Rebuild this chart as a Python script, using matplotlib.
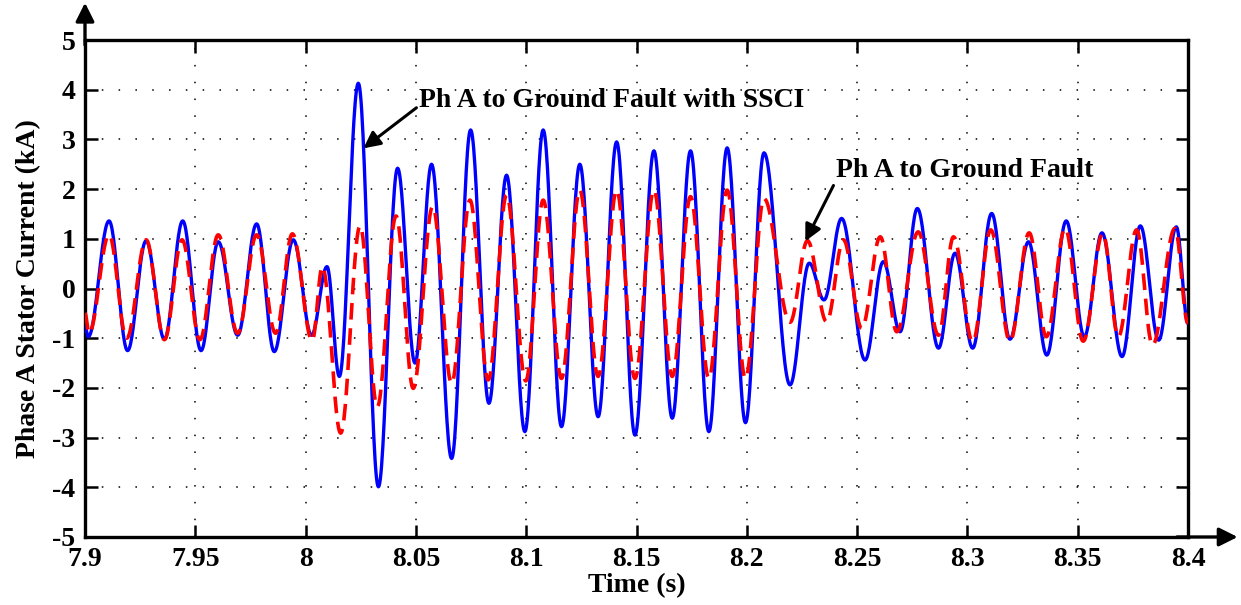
import numpy as np
import matplotlib
matplotlib.use("Agg")
import matplotlib.pyplot as plt

# Extrema of the phase A stator current (time in s, current in kA), plus the end samples
t_sscie = [7.9000, 7.9015, 7.9109, 7.9193, 7.9277, 7.9360, 7.9443, 7.9526, 7.9604, 7.9692,
           7.9778, 7.9858, 7.9944, 8.0027, 8.0097, 8.0153, 8.0239, 8.0330, 8.0417, 8.0496,
           8.0571, 8.0662, 8.0748, 8.0831, 8.0911, 8.0994, 8.1077, 8.1160, 8.1243, 8.1326,
           8.1410, 8.1493, 8.1579, 8.1662, 8.1745, 8.1828, 8.1911, 8.1994, 8.2078, 8.2196,
           8.2283, 8.2350, 8.2430, 8.2536, 8.2619, 8.2695, 8.2773, 8.2869, 8.2944, 8.3024,
           8.3110, 8.3193, 8.3277, 8.3360, 8.3448, 8.3530, 8.3610, 8.3701, 8.3784, 8.3867,
           8.3947, 8.4000]
i_sscie = [-0.77, -0.97, 1.36, -1.25, 0.96, -1.02, 1.36, -1.25, 0.94, -0.94,
           1.30, -1.27, 0.98, -0.94, 0.44, -1.77, 4.13, -3.99, 2.42, -1.50,
           2.50, -3.42, 3.19, -2.31, 2.28, -2.88, 3.19, -2.78, 2.50, -2.58,
           2.95, -2.95, 2.77, -2.61, 2.77, -2.88, 2.83, -2.70, 2.73, -1.94,
           0.51, -0.23, 1.41, -1.44, 0.54, -0.87, 1.61, -1.20, 0.71, -1.20,
           1.51, -1.02, 0.94, -1.34, 1.36, -0.97, 1.12, -1.37, 1.26, -1.04,
           1.24, -0.70]

t_fault = [7.9000, 7.9018, 7.9109, 7.9189, 7.9277, 7.9360, 7.9440, 7.9521, 7.9604, 7.9692,
           7.9778, 7.9864, 7.9940, 8.0030, 8.0076, 8.0159, 8.0247, 8.0325, 8.0410, 8.0488,
           8.0576, 8.0662, 8.0745, 8.0828, 8.0911, 8.0998, 8.1077, 8.1160, 8.1243, 8.1326,
           8.1410, 8.1493, 8.1579, 8.1662, 8.1745, 8.1828, 8.1911, 8.1994, 8.2078, 8.2196,
           8.2275, 8.2362, 8.2438, 8.2521, 8.2605, 8.2680, 8.2777, 8.2869, 8.2937, 8.3024,
           8.3106, 8.3193, 8.3280, 8.3358, 8.3443, 8.3525, 8.3614, 8.3684, 8.3767, 8.3839,
           8.3941, 8.4000]
i_fault = [-0.50, -0.90, 1.08, -1.00, 0.98, -1.03, 0.98, -1.03, 1.08, -0.90,
           1.08, -0.90, 1.10, -1.05, 0.44, -2.91, 1.26, -2.38, 1.46, -2.01,
           1.65, -1.91, 1.78, -1.84, 1.88, -1.86, 1.78, -1.81, 1.98, -1.77,
           1.98, -1.81, 1.98, -1.77, 1.85, -1.81, 1.98, -1.81, 1.81, -0.68,
           0.96, -0.67, 0.98, -0.80, 1.04, -0.87, 1.14, -0.94, 1.04, -1.07,
           1.18, -1.06, 1.12, -0.97, 1.21, -1.06, 1.11, -0.97, 1.18, -1.14,
           1.21, -0.70]

x_ticks = [7.9, 7.95, 8.0, 8.05, 8.1, 8.15, 8.2, 8.25, 8.3, 8.35, 8.4]
x_labels = ["7.9", "7.95", "8", "8.05", "8.1", "8.15", "8.2", "8.25", "8.3", "8.35", "8.4"]
y_ticks = [-5, -4, -3, -2, -1, 0, 1, 2, 3, 4, 5]


def trace(tk, vk, n=30):
    """Join successive extrema with half-cosine segments (sinusoidal shape)."""
    tk = np.asarray(tk, float)
    vk = np.asarray(vk, float)
    ts, vs = [], []
    s = np.linspace(0.0, 1.0, n, endpoint=False)
    for k in range(len(tk) - 1):
        ts.append(tk[k] + (tk[k + 1] - tk[k]) * s)
        vs.append(vk[k] + (vk[k + 1] - vk[k]) * (1 - np.cos(np.pi * s)) / 2)
    ts.append([tk[-1]])
    vs.append([vk[-1]])
    return np.concatenate(ts), np.concatenate(vs)


plt.rcParams["font.family"] = ["Liberation Serif", "DejaVu Serif"]
plt.rcParams["font.weight"] = "bold"
plt.rcParams["axes.unicode_minus"] = False

FS = 20

fig = plt.figure(figsize=(12.41, 6.05), dpi=100)
ax = fig.add_axes([85 / 1241, 1 - 537 / 605, 1103 / 1241, 497 / 605])

tb, vb = trace(t_sscie, i_sscie)
tr, vr = trace(t_fault, i_fault)
ax.plot(tb, vb, color="#0000ff", lw=2.4, zorder=3)
ax.plot(tr, vr, color="#ff0000", lw=2.6, linestyle=(0, (4.6, 2.4)), zorder=4)

ax.set_xlim(7.9, 8.4)
ax.set_ylim(-5, 5)
ax.set_xticks(x_ticks)
ax.set_xticklabels(x_labels)
ax.set_yticks(y_ticks)
ax.grid(True, color="k", linestyle=(0, (1, 10)), linewidth=1.1)
ax.tick_params(direction="in", top=True, right=True, length=9, width=1.8,
               labelsize=FS, pad=7)
for lab in ax.get_xticklabels() + ax.get_yticklabels():
    lab.set_fontweight("bold")
for sp in ax.spines.values():
    sp.set_linewidth(2.4)

ax.set_xlabel("Time (s)", fontsize=FS, fontweight="bold", labelpad=1)
ax.set_ylabel("Phase A Stator Current (kA)", fontsize=FS, fontweight="bold", labelpad=8)

# arrow heads on the axes
ax.annotate("", xy=(0, 1.075), xycoords="axes fraction", xytext=(0, 0.99),
            arrowprops=dict(arrowstyle="-|>", lw=2.4, color="k", mutation_scale=28,
                            shrinkA=0, shrinkB=0), annotation_clip=False)
ax.annotate("", xy=(1.045, 0), xycoords="axes fraction", xytext=(0.99, 0),
            arrowprops=dict(arrowstyle="-|>", lw=2.4, color="k", mutation_scale=28,
                            shrinkA=0, shrinkB=0), annotation_clip=False)

ax.annotate("Ph A to Ground Fault with SSCI", xy=(8.0262, 2.82), xytext=(8.0515, 3.78),
            fontsize=FS, fontweight="bold", va="center", ha="left",
            arrowprops=dict(arrowstyle="-|>", lw=2.2, color="k", mutation_scale=25,
                            shrinkA=0, shrinkB=0, relpos=(0.0, 0.3)), zorder=6)
ax.annotate("Ph A to Ground Fault", xy=(8.2265, 0.95), xytext=(8.2405, 2.38),
            fontsize=FS, fontweight="bold", va="center", ha="left",
            arrowprops=dict(arrowstyle="-|>", lw=2.2, color="k", mutation_scale=25,
                            shrinkA=0, shrinkB=0, relpos=(0.0, 0.1)), zorder=6)

fig.savefig("out.png", dpi=100, facecolor="white")
